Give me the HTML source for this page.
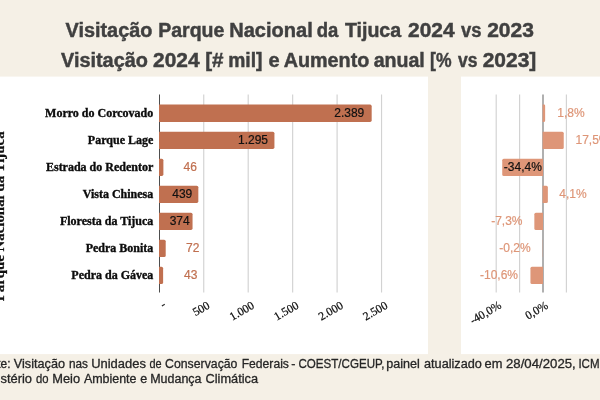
<!DOCTYPE html>
<html lang="pt-BR">
<head>
<meta charset="utf-8">
<title>Visitação Parque Nacional da Tijuca 2024 vs 2023</title>
<style>
html,body{margin:0;padding:0;background:#f5f0e6;}
body{width:600px;height:400px;overflow:hidden;position:relative;}
svg{position:absolute;left:0;top:0;display:block;}
.t{font-family:"Liberation Sans",Arial,sans-serif;font-weight:bold;font-size:20px;fill:#404040;stroke:#404040;stroke-width:0.45px;}
.f{font-family:"Liberation Sans",Arial,sans-serif;font-size:12.5px;fill:#262626;stroke:#262626;stroke-width:0.3px;}
.n{font-family:"Liberation Serif","Times New Roman",serif;font-weight:bold;font-size:12px;fill:#0c0c0c;stroke:#0c0c0c;stroke-width:0.35px;}
.v{font-family:"Liberation Sans",Arial,sans-serif;font-size:12px;}
.k{font-family:"Liberation Serif","Times New Roman",serif;font-size:11.7px;fill:#0a0a0a;stroke:#0a0a0a;stroke-width:0.22px;}
</style>
</head>
<body>
<svg width="600" height="400" viewBox="0 0 600 400">
<rect x="0" y="0" width="600" height="400" fill="#f5f0e6"/>
<rect x="0" y="76.6" width="428" height="277.5" fill="#ffffff"/>
<rect x="461" y="76.6" width="139" height="277.5" fill="#ffffff"/>

<text class="t" y="37.2"><tspan x="65.54" textLength="86.82" lengthAdjust="spacingAndGlyphs">Visitação</tspan> <tspan x="158.16" textLength="66.22" lengthAdjust="spacingAndGlyphs">Parque</tspan> <tspan x="229.24" textLength="83.56" lengthAdjust="spacingAndGlyphs">Nacional</tspan> <tspan x="316.66" textLength="21.56" lengthAdjust="spacingAndGlyphs">da</tspan> <tspan x="344.92" textLength="56.26" lengthAdjust="spacingAndGlyphs">Tijuca</tspan> <tspan x="408.0" textLength="46.55" lengthAdjust="spacingAndGlyphs">2024</tspan> <tspan x="460.96" textLength="20.48" lengthAdjust="spacingAndGlyphs">vs</tspan> <tspan x="487.16" textLength="46.78" lengthAdjust="spacingAndGlyphs">2023</tspan></text>
<text class="t" y="67.3"><tspan x="61.0" textLength="86.93" lengthAdjust="spacingAndGlyphs">Visitação</tspan> <tspan x="153.08" textLength="46.51" lengthAdjust="spacingAndGlyphs">2024</tspan> <tspan x="205.2" textLength="18.36" lengthAdjust="spacingAndGlyphs">[#</tspan> <tspan x="228.24" textLength="34.23" lengthAdjust="spacingAndGlyphs">mil]</tspan> <tspan x="268.44">e</tspan> <tspan x="283.66" textLength="85.67" lengthAdjust="spacingAndGlyphs">Aumento</tspan> <tspan x="373.66" textLength="51.17" lengthAdjust="spacingAndGlyphs">anual</tspan> <tspan x="430.12" textLength="21.45" lengthAdjust="spacingAndGlyphs">[%</tspan> <tspan x="457.96" textLength="19.46" lengthAdjust="spacingAndGlyphs">vs</tspan> <tspan x="482.66" textLength="53.68" lengthAdjust="spacingAndGlyphs">2023]</tspan></text>
<rect x="203.17" y="94.5" width="1.15" height="198" fill="#d2d2d2"/>
<rect x="247.62" y="94.5" width="1.15" height="198" fill="#d2d2d2"/>
<rect x="292.07" y="94.5" width="1.15" height="198" fill="#d2d2d2"/>
<rect x="336.52" y="94.5" width="1.15" height="198" fill="#d2d2d2"/>
<rect x="380.97" y="94.5" width="1.15" height="198" fill="#d2d2d2"/>
<rect x="159" y="94.5" width="1" height="198" fill="#4d4d4d"/>
<path d="M159.0 104.62H370.08Q371.68 104.62 371.68 106.22V120.28Q371.68 121.88 370.08 121.88H159.0Z" fill="#c07050"/>
<path d="M159.0 131.65H272.83Q274.43 131.65 274.43 133.25V147.30Q274.43 148.90 272.83 148.90H159.0Z" fill="#c07050"/>
<path d="M159.0 158.66H161.79Q163.39 158.66 163.39 160.26V174.31Q163.39 175.91 161.79 175.91H159.0Z" fill="#c07050"/>
<path d="M159.0 185.69H196.73Q198.33 185.69 198.33 187.28V201.34Q198.33 202.94 196.73 202.94H159.0Z" fill="#c07050"/>
<path d="M159.0 212.70H190.95Q192.55 212.70 192.55 214.30V228.35Q192.55 229.95 190.95 229.95H159.0Z" fill="#c07050"/>
<path d="M159.0 239.72H164.10Q165.70 239.72 165.70 241.32V255.38Q165.70 256.98 164.10 256.98H159.0Z" fill="#c07050"/>
<path d="M159.0 266.75H161.52Q163.12 266.75 163.12 268.35V282.39Q163.12 284.00 161.52 284.00H159.0Z" fill="#c07050"/>
<text class="n" x="153.3" y="116.65" text-anchor="end">Morro do Corcovado</text>
<text class="v" x="364.3" y="117.35" text-anchor="end" fill="#111" stroke="#111" stroke-width="0.2">2.389</text>
<text class="n" x="153.3" y="143.67" text-anchor="end">Parque Lage</text>
<text class="v" x="268" y="144.37" text-anchor="end" fill="#111" stroke="#111" stroke-width="0.2">1.295</text>
<text class="n" x="153.3" y="170.69" text-anchor="end">Estrada do Redentor</text>
<text class="v" x="183.5" y="171.39" text-anchor="start" fill="#c07050" stroke="#c07050" stroke-width="0.2">46</text>
<text class="n" x="153.3" y="197.71" text-anchor="end">Vista Chinesa</text>
<text class="v" x="192.3" y="198.41" text-anchor="end" fill="#111" stroke="#111" stroke-width="0.2">439</text>
<text class="n" x="153.3" y="224.73" text-anchor="end">Floresta da Tijuca</text>
<text class="v" x="189.7" y="225.43" text-anchor="end" fill="#111" stroke="#111" stroke-width="0.2">374</text>
<text class="n" x="153.3" y="251.75" text-anchor="end">Pedra Bonita</text>
<text class="v" x="186" y="251.95" text-anchor="start" fill="#c07050" stroke="#c07050" stroke-width="0.2">72</text>
<text class="n" x="153.3" y="278.77" text-anchor="end">Pedra da Gávea</text>
<text class="v" x="184" y="278.97" text-anchor="start" fill="#c07050" stroke="#c07050" stroke-width="0.2">43</text>
<text transform="translate(4.2 216.3) rotate(-90)" text-anchor="middle" font-family="Liberation Serif,serif" font-weight="bold" font-size="14.88" fill="#111" stroke="#111" stroke-width="0.25">Parque Nacional da Tijuca</text>
<text class="k" transform="translate(166.40 306.5) rotate(-30)" text-anchor="end">-</text>
<text class="k" transform="translate(210.65 307.6) rotate(-30)" text-anchor="end">500</text>
<text class="k" transform="translate(255.10 307.6) rotate(-30)" text-anchor="end">1.000</text>
<text class="k" transform="translate(299.55 307.6) rotate(-30)" text-anchor="end">1.500</text>
<text class="k" transform="translate(344.00 307.6) rotate(-30)" text-anchor="end">2.000</text>
<text class="k" transform="translate(388.45 307.6) rotate(-30)" text-anchor="end">2.500</text>
<rect x="495.62" y="94.5" width="1.15" height="198" fill="#d2d2d2"/>
<rect x="519.02" y="94.5" width="1.15" height="198" fill="#d2d2d2"/>
<rect x="565.82" y="94.5" width="1.15" height="198" fill="#d2d2d2"/>
<rect x="542.4" y="94.5" width="1.2" height="198" fill="#7c7c7c"/>
<path d="M542.65 104.62H544.07Q545.13 104.62 545.13 105.69V120.81Q545.13 121.88 544.07 121.88H542.65Z" fill="#de9678"/>
<path d="M542.65 131.65H562.24Q563.74 131.65 563.74 133.15V147.40Q563.74 148.90 562.24 148.90H542.65Z" fill="#de9678"/>
<path d="M543.00 158.66H503.74Q502.24 158.66 502.24 160.16V174.41Q502.24 175.91 503.74 175.91H543.00Z" fill="#de9678"/>
<path d="M542.65 185.69H546.36Q547.86 185.69 547.86 187.19V201.44Q547.86 202.94 546.36 202.94H542.65Z" fill="#de9678"/>
<path d="M543.00 212.70H535.85Q534.35 212.70 534.35 214.20V228.45Q534.35 229.95 535.85 229.95H543.00Z" fill="#de9678"/>
<path d="M543.00 239.72H542.88Q542.76 239.72 542.76 239.84V256.86Q542.76 256.98 542.88 256.98H543.00Z" fill="#de9678"/>
<path d="M543.00 266.75H531.94Q530.44 266.75 530.44 268.25V282.50Q530.44 284.00 531.94 284.00H543.00Z" fill="#de9678"/>
<text class="v" x="557.25" y="116.95" text-anchor="start" fill="#de9678" stroke="#de9678" stroke-width="0.2">1,8%</text>
<text class="v" x="575.5" y="143.97" text-anchor="start" fill="#de9678" stroke="#de9678" stroke-width="0.2">17,5%</text>
<text class="v" x="541.85" y="170.99" text-anchor="end" fill="#111" stroke="#111" stroke-width="0.2">-34,4%</text>
<text class="v" x="559.25" y="198.01" text-anchor="start" fill="#de9678" stroke="#de9678" stroke-width="0.2">4,1%</text>
<text class="v" x="522.5" y="225.03" text-anchor="end" fill="#de9678" stroke="#de9678" stroke-width="0.2">-7,3%</text>
<text class="v" x="530.6" y="252.05" text-anchor="end" fill="#de9678" stroke="#de9678" stroke-width="0.2">-0,2%</text>
<text class="v" x="518" y="279.07" text-anchor="end" fill="#de9678" stroke="#de9678" stroke-width="0.2">-10,6%</text>
<text class="k" transform="translate(502.20 307.5) rotate(-30)" text-anchor="end">-40,0%</text>
<text class="k" transform="translate(549.00 307.5) rotate(-30)" text-anchor="end">0,0%</text>
<text class="f" y="368"><tspan x="-23.2" textLength="33.7" lengthAdjust="spacingAndGlyphs">Fonte:</tspan> <tspan x="13.75" textLength="51.26" lengthAdjust="spacingAndGlyphs">Visitação</tspan> <tspan x="69.0" textLength="19.0" lengthAdjust="spacingAndGlyphs">nas</tspan> <tspan x="91.2" textLength="54.72" lengthAdjust="spacingAndGlyphs">Unidades</tspan> <tspan x="149.5" textLength="12.12" lengthAdjust="spacingAndGlyphs">de</tspan> <tspan x="165.12" textLength="72.31" lengthAdjust="spacingAndGlyphs">Conservação</tspan> <tspan x="241.7" textLength="47.22" lengthAdjust="spacingAndGlyphs">Federais</tspan> <tspan x="291.17">-</tspan> <tspan x="298.5" textLength="85.96" lengthAdjust="spacingAndGlyphs">COEST/CGEUP,</tspan> <tspan x="386.2" textLength="33.53" lengthAdjust="spacingAndGlyphs">painel</tspan> <tspan x="424.0" textLength="57.93" lengthAdjust="spacingAndGlyphs">atualizado</tspan> <tspan x="484.58" textLength="17.86" lengthAdjust="spacingAndGlyphs">em</tspan> <tspan x="506.0" textLength="69.74" lengthAdjust="spacingAndGlyphs">28/04/2025,</tspan> <tspan x="578.4" textLength="41.0" lengthAdjust="spacingAndGlyphs">ICMBio,</tspan></text>
<text class="f" y="382.5"><tspan x="-23.2" textLength="55.2" lengthAdjust="spacingAndGlyphs">Ministério</tspan> <tspan x="36.0" textLength="12.54" lengthAdjust="spacingAndGlyphs">do</tspan> <tspan x="52.2" textLength="27.83" lengthAdjust="spacingAndGlyphs">Meio</tspan> <tspan x="83.92" textLength="52.6" lengthAdjust="spacingAndGlyphs">Ambiente</tspan> <tspan x="140.18">e</tspan> <tspan x="150.2" textLength="51.32" lengthAdjust="spacingAndGlyphs">Mudança</tspan> <tspan x="205.5" textLength="52.51" lengthAdjust="spacingAndGlyphs">Climática</tspan></text>
</svg>
</body>
</html>
